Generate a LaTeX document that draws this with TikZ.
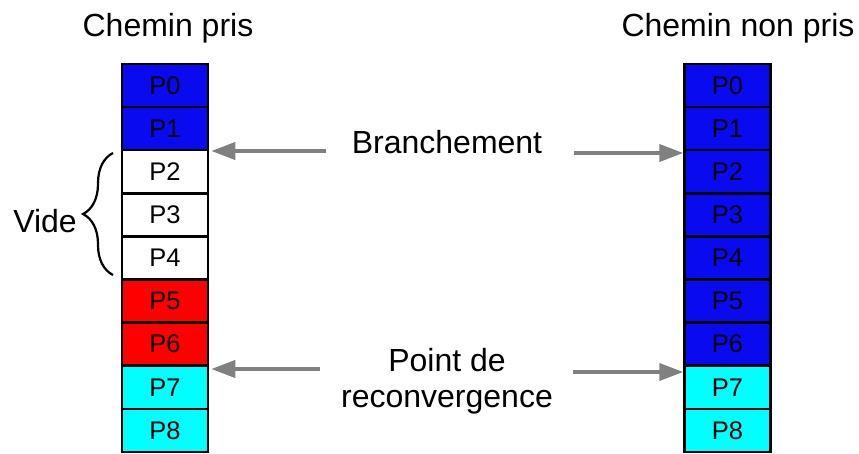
\documentclass[tikz,border=0pt]{standalone}
\usepackage{fontspec}
\setmainfont{Liberation Sans}
\usetikzlibrary{arrows.meta,decorations.pathreplacing}
\definecolor{cblue}{RGB}{10,10,240}
\definecolor{cred}{RGB}{255,0,0}
\definecolor{ccyan}{RGB}{0,255,255}
\definecolor{cgray}{RGB}{128,128,128}
\tikzset{
  pbox/.style={draw=black, line width=2.5pt, minimum width=86pt, minimum height=43.1pt, inner sep=0pt,
    font=\fontsize{25.5}{28}\selectfont, text=black},
  lbl/.style={font=\fontsize{32}{40}\selectfont, inner sep=0pt, align=center},
  garrow/.style={draw=cgray, line width=4pt, -{Triangle[length=24pt,width=17pt]}},
}
\begin{document}
\begin{tikzpicture}[x=1pt,y=-1pt]
\useasboundingbox (0,0) rectangle (859,453);
% left column
\foreach \i/\c in {0/cblue,1/cblue,2/white,3/white,4/white,5/cred,6/cred,7/ccyan,8/ccyan}{
  \node[pbox, fill=\c] (L\i) at (165, {64+43.1*(\i+0.5)}) {P\i};
}
% right column
\foreach \i/\c in {0/cblue,1/cblue,2/cblue,3/cblue,4/cblue,5/cblue,6/cblue,7/ccyan,8/ccyan}{
  \node[pbox, fill=\c] (R\i) at (727.5, {64+43.1*(\i+0.5)}) {P\i};
}
% titles
\node[lbl] (t1) at (168,28) {Chemin pris};
\node[lbl] (t2) at (738,28) {Chemin non pris};
% middle labels
\node[lbl] (br) at (447,142) {Branchement};
\node[lbl, font=\fontsize{32}{36}\selectfont] (pr) at (447,381) {Point de\\reconvergence};
% arrows
\coordinate (a1) at (326,151);
\coordinate (a2) at (574,153);
\coordinate (a3) at (320,369);
\coordinate (a4) at (573,372);
\draw[garrow] (a1) -- ([xshift=2pt]a1 -| L1.east);
\draw[garrow] (a2) -- (a2 -| R2.west);
\draw[garrow] (a3) -- ([xshift=2pt]a3 -| L7.east);
\draw[garrow] (a4) -- (a4 -| R7.west);
% brace
\coordinate (b1) at (113,275);
\coordinate (b2) at (113,153);
\draw[line width=2.2pt, decorate, decoration={brace, amplitude=30pt}] (b1) -- (b2);
\node[lbl, anchor=east] (vide) at (77,221) {Vide};
\end{tikzpicture}
\end{document}
